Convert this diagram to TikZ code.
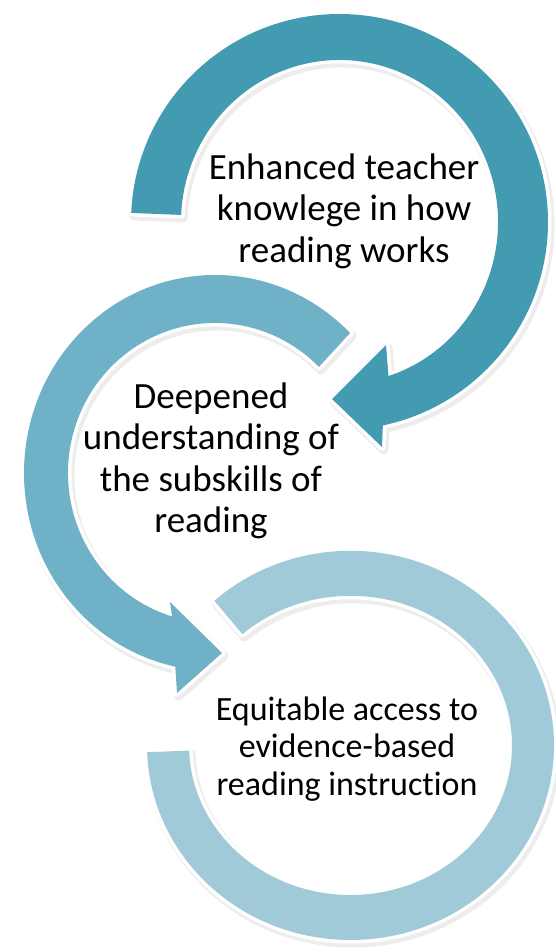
\documentclass[tikz,border=0pt]{standalone}
\usepackage{fontspec}
\setmainfont{Carlito}[Ligatures=NoCommon]
\usetikzlibrary{calc}
\definecolor{arrA}{RGB}{67,155,178}
\definecolor{arrB}{RGB}{111,178,200}
\definecolor{arrC}{RGB}{161,202,217}
\begin{document}
\begin{tikzpicture}[x=1pt,y=1pt,
  shadowlayer/.style={fill=black, draw=black, line width=9pt, opacity=0.07, line join=round},
  whiteedge/.style={draw=white, fill=white, line width=7pt, line join=round},
  lbl/.style={align=center, font=\fontsize{37}{41.5}\selectfont, text=black, inner sep=0pt}]
\useasboundingbox (0,0) rectangle (556,-952);
\fill[white] (0,0) rectangle (556,-952);
\coordinate (C1) at (339.5,-222);
\coordinate (C2) at (215,-473);
\coordinate (C3) at (350.5,-745.4);
\def\pathA{([shift={(177.5:208.5 and 208)}]C1) arc[start angle=177.5, end angle=-78, x radius=208.5, y radius=208] -- (382,-447) -- (332,-399) -- (386,-345) -- ([shift={(-72:158.5 and 162)}]C1) arc[start angle=-72, end angle=177.5, x radius=158.5, y radius=162] -- cycle}
\def\pathB{([shift={(45:191 and 198)}]C2) arc[start angle=45, end angle=258, x radius=191, y radius=198] -- (177,-693) -- (222,-653) -- (170,-602) -- ([shift={(253:147 and 150)}]C2) arc[start angle=253, end angle=45, x radius=147, y radius=150] -- cycle}
\def\pathC{([shift={(132:203.5 and 194.6)}]C3) arc[start angle=132, end angle=-178, x radius=203.5, y radius=194.6] -- ([shift={(-178:161.5 and 149.6)}]C3) arc[start angle=-178, end angle=132, x radius=161.5, y radius=149.6] -- cycle}
% arrow 3
\begin{scope}[transform canvas={shift={(2pt,-3pt)}}]
  \path[shadowlayer] \pathC;
\end{scope}
\path[whiteedge] \pathC;
\fill[arrC] \pathC;
% arrow 2
\begin{scope}[transform canvas={shift={(2pt,-3pt)}}]
  \path[shadowlayer] \pathB;
\end{scope}
\path[whiteedge] \pathB;
\fill[arrB] \pathB;
% arrow 1
\begin{scope}[transform canvas={shift={(2pt,-3pt)}}]
  \path[shadowlayer] \pathA;
\end{scope}
\path[whiteedge] \pathA;
\fill[arrA] \pathA;
% labels
\node[lbl] (t1) at (344,-211) {Enhanced teacher\\knowlege in how\\reading works};
\node[lbl] (t2) at (211,-461) {Deepened\\understanding of\\the subskills of\\reading};
\node[lbl, font=\fontsize{34}{37.5}\selectfont] (t3) at (347,-749) {Equitable access to\\evidence-based\\reading instruction};
\end{tikzpicture}
\end{document}
